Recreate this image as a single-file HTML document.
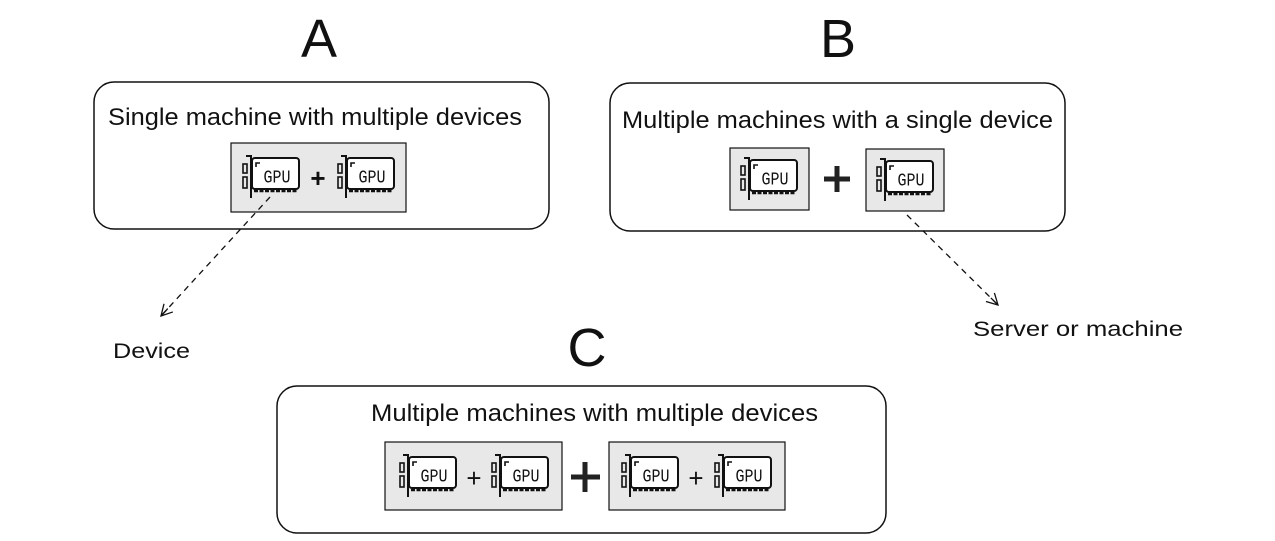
<!DOCTYPE html>
<html><head><meta charset="utf-8"><style>
html,body{margin:0;padding:0;background:#fff;}
svg{display:block;}
text{font-family:"Liberation Sans",sans-serif;fill:#111;}
</style></head><body>
<svg width="1275" height="541" viewBox="0 0 1275 541" xmlns="http://www.w3.org/2000/svg">
<defs>
<g id="gpu">
  <path d="M3 0 H8 V42" fill="none" stroke="#111" stroke-width="2"/>
  <rect x="0" y="8" width="4" height="9" fill="none" stroke="#111" stroke-width="1.6"/>
  <rect x="0" y="21" width="4" height="11" fill="none" stroke="#111" stroke-width="1.6"/>
  <rect x="9" y="2" width="47" height="31" rx="3" fill="#fff" stroke="#111" stroke-width="2"/>
  <path d="M13 11 V7 H17" fill="none" stroke="#111" stroke-width="1.6"/>
  <text x="34" y="26" text-anchor="middle" transform="translate(0,-6) scale(1,1.25)" style="font-family:'Liberation Mono',monospace;font-size:15px">GPU</text>
  <path d="M11 35 H54" stroke="#111" stroke-width="2.5" stroke-dasharray="4 1.5"/>
</g>
<marker id="ah" markerWidth="14" markerHeight="14" refX="12" refY="7" orient="auto" markerUnits="userSpaceOnUse">
  <path d="M1 1 L12 7 L1 13 M12 7 L2 7" fill="none" stroke="#111" stroke-width="1.3"/>
</marker>
</defs>

<text x="319" y="57" text-anchor="middle" font-size="54">A</text>
<text x="838" y="57" text-anchor="middle" font-size="54">B</text>
<text x="587" y="366" text-anchor="middle" font-size="54">C</text>

<rect x="94" y="82" width="455" height="147" rx="20" fill="#fff" stroke="#111" stroke-width="1.5"/>
<text x="108" y="125" font-size="24" textLength="414" lengthAdjust="spacingAndGlyphs">Single machine with multiple devices</text>
<rect x="231" y="143" width="175" height="69" fill="#e8e8e8" stroke="#111" stroke-width="1.2"/>
<use href="#gpu" x="243" y="156"/>
<text x="318" y="187" text-anchor="middle" font-size="26" font-weight="bold">+</text>
<use href="#gpu" x="338" y="156"/>
<line x1="270" y1="197" x2="161" y2="316" stroke="#111" stroke-width="1.3" stroke-dasharray="6 5" marker-end="url(#ah)"/>
<text x="113" y="358" font-size="21" textLength="77" lengthAdjust="spacingAndGlyphs">Device</text>

<rect x="610" y="83" width="455" height="148" rx="20" fill="#fff" stroke="#111" stroke-width="1.5"/>
<text x="622" y="128" font-size="24" textLength="431" lengthAdjust="spacingAndGlyphs">Multiple machines with a single device</text>
<rect x="730" y="148" width="79" height="62" fill="#e8e8e8" stroke="#111" stroke-width="1.2"/>
<use href="#gpu" x="741" y="158"/>
<path d="M824 179 H850 M837 166 V192" stroke="#222" stroke-width="5"/>
<rect x="866" y="149" width="78" height="62" fill="#e8e8e8" stroke="#111" stroke-width="1.2"/>
<use href="#gpu" x="877" y="159"/>
<line x1="907" y1="215" x2="998" y2="305" stroke="#111" stroke-width="1.3" stroke-dasharray="6 5" marker-end="url(#ah)"/>
<text x="973" y="336" font-size="21" textLength="210" lengthAdjust="spacingAndGlyphs">Server or machine</text>

<rect x="277" y="386" width="609" height="147" rx="20" fill="#fff" stroke="#111" stroke-width="1.5"/>
<text x="371" y="421" font-size="24" textLength="447" lengthAdjust="spacingAndGlyphs">Multiple machines with multiple devices</text>
<rect x="385" y="442" width="177" height="68" fill="#e8e8e8" stroke="#111" stroke-width="1.2"/>
<use href="#gpu" x="400" y="455"/>
<text x="474" y="487" text-anchor="middle" font-size="26">+</text>
<use href="#gpu" x="492" y="455"/>
<path d="M571 477 H600 M585 462 V492" stroke="#222" stroke-width="5"/>
<rect x="609" y="442" width="176" height="68" fill="#e8e8e8" stroke="#111" stroke-width="1.2"/>
<use href="#gpu" x="622" y="455"/>
<text x="696" y="487" text-anchor="middle" font-size="26">+</text>
<use href="#gpu" x="715" y="455"/>
</svg>
</body></html>
